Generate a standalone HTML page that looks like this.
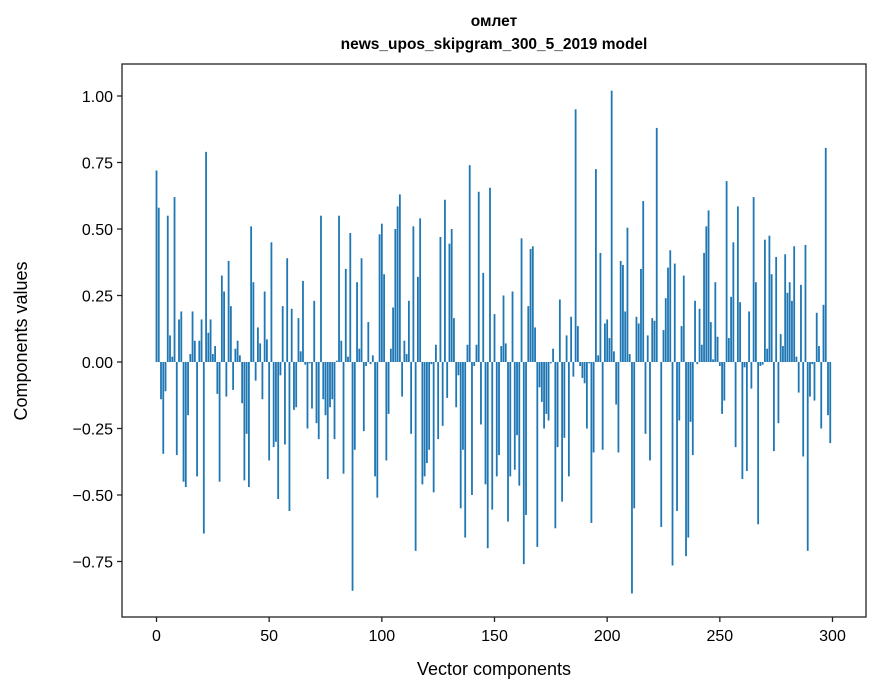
<!DOCTYPE html>
<html><head><meta charset="utf-8"><style>
html,body{margin:0;padding:0;background:#fff;}
svg{display:block;font-family:"Liberation Sans","DejaVu Sans",sans-serif;}
</style></head><body>
<svg id="chart" width="880" height="696" viewBox="0 0 880 696" xmlns="http://www.w3.org/2000/svg">
<rect x="0" y="0" width="880" height="696" fill="#fff"/>
<text x="494" y="26" text-anchor="middle" font-size="15.5" font-weight="bold">омлет</text>
<text x="494" y="49" text-anchor="middle" font-size="15.5" font-weight="bold">news_upos_skipgram_300_5_2019 model</text>
<g id="bars"></g>
<g id="axes"></g>
<text x="494" y="675" text-anchor="middle" font-size="18">Vector components</text>
<text transform="translate(27,341) rotate(-90)" text-anchor="middle" font-size="18">Components values</text>
</svg>
<script>
const values = [0.72,0.58,-0.14,-0.345,-0.11,0.55,0.10,0.02,0.62,-0.35,0.16,0.19,-0.45,-0.47,-0.20,0.03,0.19,0.08,-0.43,0.08,0.16,-0.645,0.79,0.11,0.16,0.03,0.06,-0.12,-0.45,0.325,0.265,-0.13,0.38,0.21,-0.105,0.05,0.08,0.025,-0.155,-0.445,-0.27,-0.47,0.51,0.30,-0.07,0.13,0.07,-0.14,0.265,0.085,-0.37,0.45,-0.32,-0.30,-0.515,-0.05,0.21,-0.31,0.39,-0.56,0.20,-0.18,-0.17,0.165,0.04,0.305,-0.01,-0.25,-0.005,-0.175,0.23,-0.23,-0.29,0.55,-0.14,
-0.20,-0.44,-0.17,-0.14,-0.29,0.005,0.55,0.08,-0.42,0.35,0.02,0.485,-0.86,-0.33,0.30,0.05,0.39,-0.26,-0.015,0.15,-0.008,0.025,-0.43,-0.51,0.48,0.52,0.33,-0.37,-0.195,0.05,0.205,0.50,0.585,0.63,-0.13,0.08,0.03,0.23,-0.27,0.51,-0.71,0.32,0.54,-0.46,-0.43,-0.38,-0.33,-0.008,-0.49,0.065,-0.29,0.47,-0.24,0.61,-0.135,0.445,0.50,0.165,-0.17,-0.05,-0.55,-0.33,-0.66,0.065,0.74,-0.50,-0.015,0.065,0.64,-0.235,0.335,-0.46,-0.70,0.655,-0.555,0.18,
-0.43,-0.35,0.06,0.25,0.07,-0.60,-0.43,0.265,-0.405,-0.275,-0.465,0.465,-0.76,-0.575,0.21,0.425,0.435,0.13,-0.695,-0.095,-0.15,-0.25,-0.195,-0.22,-0.005,0.05,-0.625,-0.32,0.235,-0.525,-0.285,0.10,-0.43,0.17,-0.055,0.95,0.135,-0.015,-0.06,-0.08,-0.25,-0.005,-0.605,-0.34,0.725,0.025,0.41,-0.33,0.145,0.16,0.09,1.02,0.04,-0.16,-0.34,0.38,0.365,0.19,0.505,0.03,-0.87,-0.55,0.17,0.145,0.35,0.605,-0.27,0.10,-0.37,0.165,0.155,0.88,0.0,-0.62,0.12,
0.24,0.355,0.42,-0.765,0.37,-0.56,-0.22,0.135,0.325,-0.73,-0.66,-0.225,-0.35,0.23,-0.008,0.20,0.065,0.41,0.51,0.57,0.15,0.01,0.30,0.095,-0.015,-0.195,-0.145,0.68,0.09,0.245,0.45,-0.32,0.585,0.225,-0.44,-0.02,-0.41,0.19,-0.10,0.62,0.30,-0.61,-0.015,-0.01,0.46,0.05,0.475,0.33,-0.335,0.395,-0.23,0.105,0.06,0.405,0.26,0.30,0.23,0.435,0.02,-0.115,0.29,-0.355,0.44,-0.71,-0.13,-0.008,-0.145,0.185,0.06,-0.25,0.215,0.805,-0.20,-0.305];
const xTicks = [0,50,100,150,200,250,300];
const yTicks = [-0.75,-0.5,-0.25,0,0.25,0.5,0.75,1.0];
const yTickLabels = ["\u22120.75","\u22120.50","\u22120.25","0.00","0.25","0.50","0.75","1.00"];

const NS="http://www.w3.org/2000/svg";
const L=122,R=866,T=64,B=617;
function xs(i){return 156.5+(i)*(832.5-156.5)/300;}
function ys(v){return 362-v*266;}
const bw=0.8*(832.5-156.5)/300;
const gb=document.getElementById('bars');
values.forEach((v,i)=>{
  const r=document.createElementNS(NS,'rect');
  
  
  const y0=ys(0),y1=ys(v);
  r.setAttribute('x',xs(i)-bw/2);
  r.setAttribute('y',Math.min(y0,y1));
  r.setAttribute('width',bw);
  r.setAttribute('height',Math.max(Math.abs(y1-y0),0.01));
  r.setAttribute('fill','#1f77b4');
  gb.appendChild(r);
});
const ga=document.getElementById('axes');
const frame=document.createElementNS(NS,'rect');


frame.setAttribute('x',L);frame.setAttribute('y',T);
frame.setAttribute('width',R-L);frame.setAttribute('height',B-T);
frame.setAttribute('fill','none');frame.setAttribute('stroke','#222');frame.setAttribute('stroke-width','1.3');
ga.appendChild(frame);
xTicks.forEach(t=>{
  const x=xs(t);
  const l=document.createElementNS(NS,'line');
  
  
  l.setAttribute('x1',x);l.setAttribute('x2',x);l.setAttribute('y1',B);l.setAttribute('y2',B+5);
  l.setAttribute('stroke','#222');l.setAttribute('stroke-width','1.3');
  ga.appendChild(l);
  const tx=document.createElementNS(NS,'text');
  
  
  tx.setAttribute('x',x);tx.setAttribute('y',B+24);
  tx.setAttribute('text-anchor','middle');tx.setAttribute('font-size','16');
  tx.textContent=String(t);
  ga.appendChild(tx);
});
yTicks.forEach((t,k)=>{
  const y=ys(t);
  const l=document.createElementNS(NS,'line');
  
  
  l.setAttribute('x1',L-5);l.setAttribute('x2',L);l.setAttribute('y1',y);l.setAttribute('y2',y);
  l.setAttribute('stroke','#222');l.setAttribute('stroke-width','1.3');
  ga.appendChild(l);
  const tx=document.createElementNS(NS,'text');
  
  
  tx.setAttribute('x',L-9);tx.setAttribute('y',y+6);
  tx.setAttribute('text-anchor','end');tx.setAttribute('font-size','16');
  tx.textContent=yTickLabels[k];
  ga.appendChild(tx);
});
</script>
</body></html>
